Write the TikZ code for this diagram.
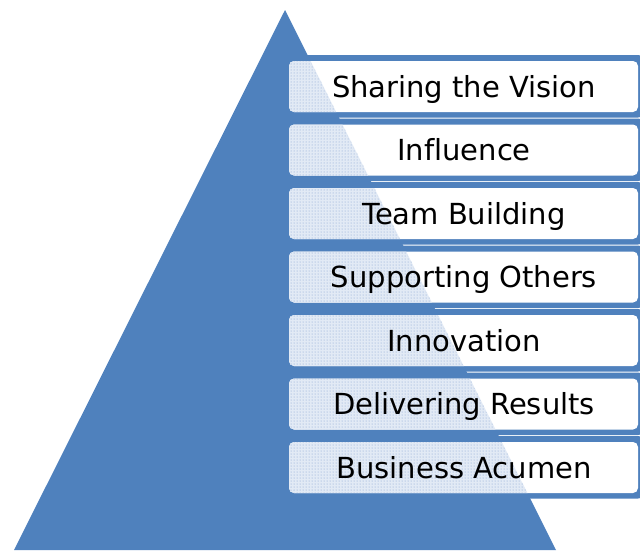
\documentclass[tikz,border=0pt]{standalone}
\usepackage{fontspec}
\setmainfont[Ligatures=NoCommon]{DejaVu Sans}
\usetikzlibrary{patterns}
\definecolor{pyblue}{HTML}{4F81BD}
\definecolor{dotblue}{HTML}{7FA0CF}
\definecolor{dotbg}{HTML}{E2EAF5}
\tikzset{
  outerbox/.style={fill=pyblue, rounded corners=6pt},
  innerbox/.style={fill=white, rounded corners=5pt},
  lbl/.style={font=\fontsize{29}{33}\selectfont, anchor=base, inner sep=0pt}
}
\begin{document}
\begin{tikzpicture}[x=1pt,y=-1pt]
\useasboundingbox (0,0) rectangle (640,550);
\fill[white] (0,0) rectangle (640,550);
\fill[pyblue] (285,10) -- (556,550) -- (14,550) -- cycle;
\foreach \i/\t in {1/Sharing the Vision,2/Influence,3/Team Building,4/Supporting Others,5/Innovation,6/Delivering Results,7/Business Acumen}{
  \pgfmathsetmacro{\T}{61+63.5*(\i-1)}
  \pgfmathsetmacro{\B}{\T+51}
  \fill[outerbox] (283,\T-6) rectangle (644,\B+5.5);
  \fill[innerbox] (289,\T) rectangle (638,\B);
  \begin{scope}
    \clip[rounded corners=5pt] (289,\T) rectangle (638,\B);
    \fill[dotbg] (285,10) -- (556,550) -- (14,550) -- cycle;
    \fill[pattern=dots, pattern color=dotblue] (285,10) -- (556,550) -- (14,550) -- cycle;
  \end{scope}
  \node[lbl] (box\i) at (464,\T+36) {\t};
}
\end{tikzpicture}
\end{document}
